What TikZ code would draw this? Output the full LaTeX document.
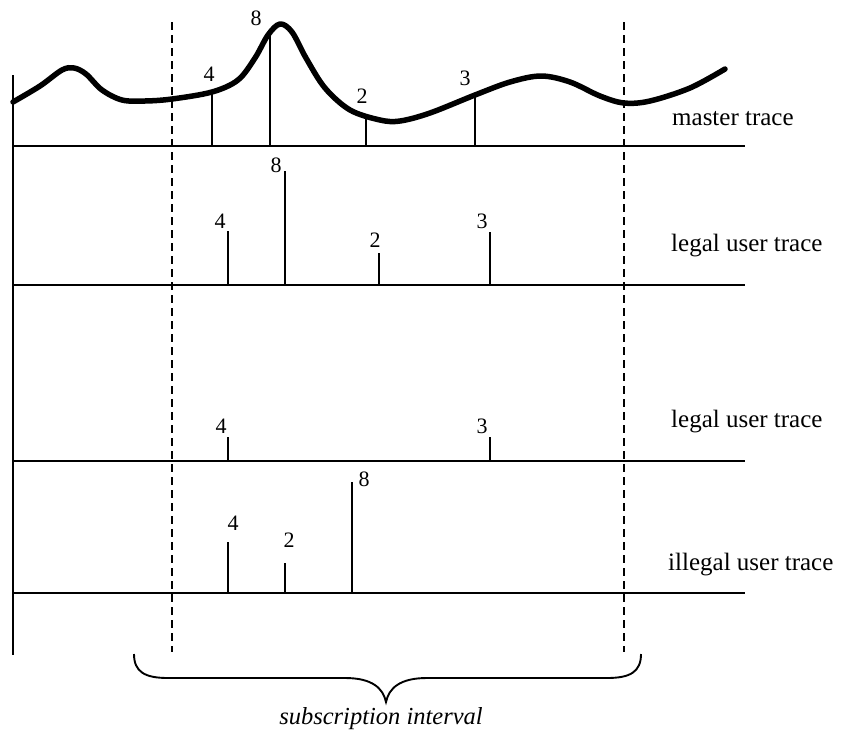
\documentclass[tikz,border=0pt]{standalone}
\usepackage{fontspec}
\setmainfont{Liberation Serif}
\begin{document}
\begin{tikzpicture}[x=1pt,y=-1pt,
  axisline/.style={line width=2.2pt},
  stem/.style={line width=1.9pt},
  bound/.style={line width=1.8pt, dash pattern=on 8pt off 5pt},
  wave/.style={line width=5.5pt, line cap=round, line join=round},
  num/.style={inner sep=0pt, font=\fontsize{22}{24}\selectfont},
  tracelabel/.style={inner sep=0pt, anchor=west, font=\fontsize{25}{28}\selectfont}]
\useasboundingbox (0,0) rectangle (842,739);

% time axis and interval boundaries
\coordinate (axtop) at (13,75);
\coordinate (axbot) at (13,655);
\draw[axisline] (axtop) -- (axbot);
\coordinate (lbtop) at (172,22);
\coordinate (lbbot) at (172,652);
\coordinate (rbtop) at (624,22);
\coordinate (rbbot) at (624,652);
\draw[bound] (lbtop) -- (lbbot);
\draw[bound] (rbtop) -- (rbbot);

% baselines of the four traces
\foreach \n/\y in {m/146, a/285, b/461, c/593}{
  \coordinate (\n0) at (13,\y);
  \coordinate (\n1) at (745,\y);
  \draw[axisline] (\n0) -- (\n1);
}

% master trace stems
\coordinate (ms4b) at (212,146); \coordinate (ms4t) at (212,92);
\coordinate (ms8b) at (270,146); \coordinate (ms8t) at (270,34);
\coordinate (ms2b) at (366,146); \coordinate (ms2t) at (366,117);
\coordinate (ms3b) at (475,146); \coordinate (ms3t) at (475,95);
\draw[stem] (ms4b) -- (ms4t);
\draw[stem] (ms8b) -- (ms8t);
\draw[stem] (ms2b) -- (ms2t);
\draw[stem] (ms3b) -- (ms3t);

% master trace waveform
\draw[wave] plot[smooth, tension=0.55] coordinates {
  (13,102) (40,86) (62,70) (74,68) (86,74) (102,90) (122,100) (145,101)
  (172,99) (212,92) (238,80) (255,58) (268,35) (280,24) (292,32)
  (306,58) (325,88) (350,110) (380,120) (400,121) (430,113) (475,95)
  (510,82) (541,76) (570,82) (600,96) (624,103) (650,101) (690,88) (725,69)};

\node[num] (ml4) at (209,74) {4};
\node[num] (ml8) at (256,18) {8};
\node[num] (ml2) at (362,96) {2};
\node[num] (ml3) at (465,78) {3};
\node[tracelabel] (mlab) at (672,119) {master trace};

% first legal user trace
\coordinate (as4b) at (228,285); \coordinate (as4t) at (228,231);
\coordinate (as8b) at (285,285); \coordinate (as8t) at (285,171);
\coordinate (as2b) at (379,285); \coordinate (as2t) at (379,253);
\coordinate (as3b) at (490,285); \coordinate (as3t) at (490,232);
\draw[stem] (as4b) -- (as4t);
\draw[stem] (as8b) -- (as8t);
\draw[stem] (as2b) -- (as2t);
\draw[stem] (as3b) -- (as3t);
\node[num] (al4) at (220,221) {4};
\node[num] (al8) at (276,165) {8};
\node[num] (al2) at (375,240) {2};
\node[num] (al3) at (482,221) {3};
\node[tracelabel] (alab) at (671,246) {legal user trace};

% second legal user trace
\coordinate (bs4b) at (228,461); \coordinate (bs4t) at (228,437);
\coordinate (bs3b) at (490,461); \coordinate (bs3t) at (490,437);
\draw[stem] (bs4b) -- (bs4t);
\draw[stem] (bs3b) -- (bs3t);
\node[num] (bl4) at (221,426) {4};
\node[num] (bl3) at (482,426) {3};
\node[tracelabel] (blab) at (671,422) {legal user trace};

% illegal user trace
\coordinate (cs4b) at (228,593); \coordinate (cs4t) at (228,542);
\coordinate (cs2b) at (285,593); \coordinate (cs2t) at (285,563);
\coordinate (cs8b) at (352,593); \coordinate (cs8t) at (352,482);
\draw[stem] (cs4b) -- (cs4t);
\draw[stem] (cs2b) -- (cs2t);
\draw[stem] (cs8b) -- (cs8t);
\node[num] (cl4) at (233,523) {4};
\node[num] (cl2) at (289,540) {2};
\node[num] (cl8) at (364,479) {8};
\node[tracelabel] (clab) at (668,565) {illegal user trace};

% subscription interval brace
\coordinate (brl) at (134,654);
\coordinate (brtip) at (386,702);
\coordinate (brr) at (641,654);
\draw[line width=1.9pt]
  (brl) .. controls (134,672) and (145,678) .. (168,678)
  -- (345,678) .. controls (372,678) and (383,688) .. (brtip)
  .. controls (389,688) and (400,678) .. (427,678)
  -- (607,678) .. controls (630,678) and (641,672) .. (brr);
\node[inner sep=0pt, font=\fontsize{24.5}{27}\selectfont\itshape] (sublab) at (381,719) {subscription interval};
\end{tikzpicture}
\end{document}
